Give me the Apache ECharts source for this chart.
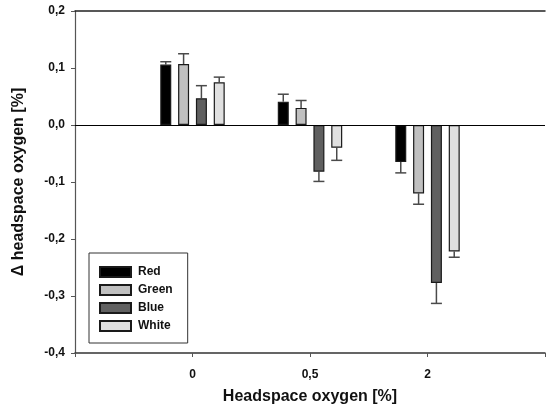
<!DOCTYPE html>
<html>
<head>
<meta charset="utf-8">
<script src="https://cdn.jsdelivr.net/npm/echarts@6/dist/echarts.min.js"></script>
<style>
  html, body { margin: 0; padding: 0; background: #fff; }
  #main { width: 548px; height: 413px; }
</style>
</head>
<body>
<div id="main"></div>
<script>
// categories on x (empty slots at both ends keep the spacing of the original)
var categories = ['', '0', '0,5', '2', ''];
var seriesNames = ['Red', 'Green', 'Blue', 'White'];

// mean change per group, '-' for the empty slots
var redVals   = ['-', 0.106, 0.041, -0.065, '-'];
var greenVals = ['-', 0.107, 0.030, -0.120, '-'];
var blueVals  = ['-', 0.047, -0.082, -0.277, '-'];
var whiteVals = ['-', 0.075, -0.040, -0.222, '-'];

// one-sided error bar length
var redErr   = [0, 0.005, 0.013, 0.019, 0];
var greenErr = [0, 0.018, 0.013, 0.019, 0];
var blueErr  = [0, 0.022, 0.017, 0.036, 0];
var whiteErr = [0, 0.009, 0.022, 0.010, 0];

var yTicks = { min: -0.4, max: 0.2, interval: 0.1 };

var fills = ['#000000', '#c0c0c0', '#606060', '#e0e0e0'];
var allVals = [redVals, greenVals, blueVals, whiteVals];
var allErr = [redErr, greenErr, blueErr, whiteErr];

var BAR_W = 11;
var BAR_GAP = 0.62;

var chart = echarts.init(document.getElementById('main'), null, { renderer: 'canvas' });

function errorSeries(idx) {
  var data = [];
  allVals[idx].forEach(function (v, i) {
    if (v === '-') return;
    var sign = v < 0 ? -1 : 1;
    data.push([i, v, v + sign * allErr[idx][i]]);
  });
  return {
    type: 'custom',
    name: seriesNames[idx] + ' err',
    silent: true,
    z: 1,
    data: data,
    renderItem: function (params, api) {
      var step = BAR_W * (1 + BAR_GAP);
      var off = (idx - 1.5) * step;
      var p0 = api.coord([api.value(0), api.value(1)]);
      var p1 = api.coord([api.value(0), api.value(2)]);
      var x = p0[0] + off;
      var half = BAR_W / 2;
      var st = { stroke: '#4a4a4a', lineWidth: 1.5 };
      return {
        type: 'group',
        children: [
          { type: 'line', shape: { x1: x, y1: p0[1], x2: x, y2: p1[1] }, style: st },
          { type: 'line', shape: { x1: x - half, y1: p1[1], x2: x + half, y2: p1[1] }, style: st }
        ]
      };
    }
  };
}

var series = [];
seriesNames.forEach(function (name, idx) {
  var s = {
    name: name,
    type: 'bar',
    data: allVals[idx],
    barWidth: BAR_W,
    barGap: (BAR_GAP * 100) + '%',
    z: 3,
    itemStyle: {
      color: fills[idx],
      borderColor: '#1a1a1a',
      borderWidth: 1.2
    }
  };
  if (idx === 0) {
    s.markLine = {
      silent: true,
      symbol: 'none',
      label: { show: false },
      lineStyle: { color: '#000', width: 1.2, type: 'solid' },
      data: [{ yAxis: 0 }]
    };
  }
  series.push(s);
});
seriesNames.forEach(function (name, idx) {
  series.push(errorSeries(idx));
});

var option = {
  animation: false,
  backgroundColor: '#fff',
  textStyle: { fontFamily: 'Liberation Sans, Arial, sans-serif' },
  grid: { left: 75, right: -4, top: 11, bottom: 60 },
  legend: {
    data: seriesNames,
    orient: 'vertical',
    icon: 'rect',
    left: 89,
    top: 253,
    itemWidth: 31,
    itemHeight: 10,
    itemGap: 6,
    padding: [13, 15, 11, 10],
    backgroundColor: '#fff',
    borderColor: '#333',
    borderWidth: 1,
    borderRadius: 0,
    textStyle: { fontSize: 12, fontWeight: 'bold', color: '#111', padding: [0, 0, 0, 2] }
  },
  xAxis: [{
    type: 'category',
    data: categories,
    boundaryGap: false,
    name: 'Headspace oxygen [%]',
    nameLocation: 'middle',
    nameGap: 36,
    nameTextStyle: { fontSize: 16, fontWeight: 'bold', color: '#111', padding: [0, 0, 0, 0] },
    axisLine: { onZero: false, lineStyle: { color: '#333', width: 1.5 } },
    axisTick: { show: true, length: 4, inside: false, lineStyle: { color: '#555' } },
    axisLabel: { fontSize: 12, fontWeight: 'bold', color: '#111', margin: 16 },
    splitLine: { show: false }
  }, {
    type: 'category',
    data: categories,
    position: 'top',
    boundaryGap: false,
    axisLine: { onZero: false, lineStyle: { color: '#222', width: 1.5 } },
    axisTick: { show: false },
    axisLabel: { show: false },
    splitLine: { show: false }
  }],
  yAxis: {
    type: 'value',
    min: yTicks.min,
    max: yTicks.max,
    interval: yTicks.interval,
    name: 'Δ headspace oxygen [%]',
    nameLocation: 'middle',
    nameGap: 48,
    nameTextStyle: { fontSize: 16, fontWeight: 'bold', color: '#111' },
    axisLine: { show: true, onZero: false, lineStyle: { color: '#555', width: 1.2 } },
    axisTick: { show: true, length: 4, lineStyle: { color: '#555' } },
    axisLabel: {
      fontSize: 12, fontWeight: 'bold', color: '#111', margin: 10,
      formatter: function (v) { return v.toFixed(1).replace('.', ','); }
    },
    splitLine: { show: false }
  },
  series: series
};

chart.setOption(option);
</script>
</body>
</html>
